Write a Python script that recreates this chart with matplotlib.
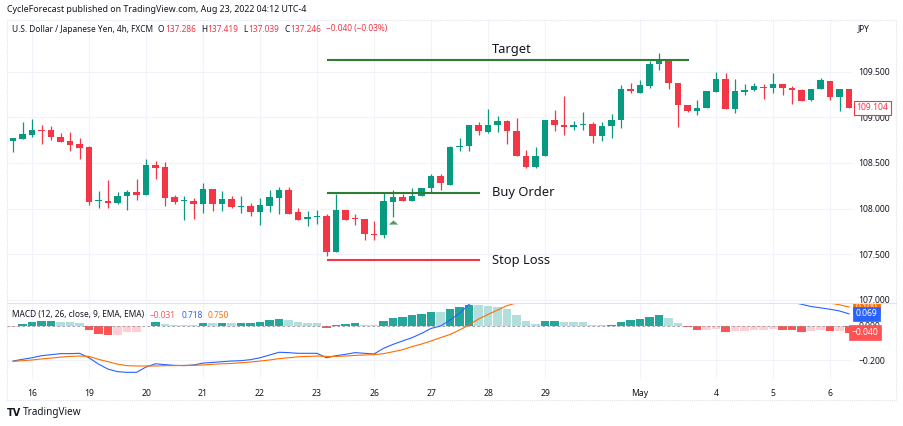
import numpy as np
import matplotlib
matplotlib.use('Agg')
import matplotlib.pyplot as plt
from matplotlib.patches import Rectangle
from matplotlib.lines import Line2D
from matplotlib.transforms import Bbox

plt.rcParams['font.family'] = ['Noto Sans', 'DejaVu Sans']

# USD/JPY 4h candles (Apr 15 - May 6)
opens = [108.741, 108.767, 108.807, 108.859, 108.859, 108.789, 108.741, 108.704, 108.670, 108.078,
         108.085, 108.056, 108.137, 108.181, 108.148, 108.481, 108.459, 108.126, 108.078, 108.085,
         108.048, 108.215, 108.052, 108.104, 108.019, 108.026, 107.963, 108.033, 108.119, 108.204,
         107.959, 107.886, 107.904, 107.923, 107.520, 107.988, 107.901, 107.890, 107.725, 107.714,
         108.069, 108.127, 108.080, 108.135, 108.226, 108.354, 108.262, 108.676, 108.683, 108.918,
         108.837, 108.921, 108.965, 108.855, 108.581, 108.452, 108.573, 108.976, 108.918, 108.896,
         108.921, 108.932, 108.800, 108.903, 108.976, 109.306, 109.262, 109.342, 109.588, 109.636,
         109.379, 109.134, 109.068, 109.104, 109.277, 109.423, 109.086, 109.277, 109.299, 109.335,
         109.324, 109.361, 109.324, 109.299, 109.189, 109.306, 109.397, 109.225, 109.306]
highs = [108.770, 108.952, 108.981, 108.915, 108.904, 108.826, 108.844, 108.778, 108.681, 108.193,
         108.315, 108.181, 108.204, 108.326, 108.548, 108.526, 108.507, 108.148, 108.137, 108.111,
         108.285, 108.215, 108.196, 108.137, 108.137, 108.056, 108.111, 108.204, 108.233, 108.233,
         108.007, 107.977, 107.988, 107.944, 108.164, 107.988, 107.944, 107.890, 107.860, 108.171,
         108.200, 108.164, 108.226, 108.226, 108.383, 108.383, 108.690, 108.775, 108.918, 108.947,
         109.086, 109.013, 108.976, 108.994, 108.639, 108.676, 108.976, 109.075, 109.233, 108.958,
         109.057, 108.947, 108.947, 109.031, 109.350, 109.372, 109.408, 109.617, 109.701, 109.636,
         109.379, 109.134, 109.185, 109.288, 109.496, 109.482, 109.423, 109.361, 109.379, 109.361,
         109.482, 109.361, 109.342, 109.313, 109.306, 109.434, 109.397, 109.306, 109.306]
lows = [108.619, 108.767, 108.785, 108.711, 108.752, 108.730, 108.630, 108.548, 108.037, 108.007,
        108.007, 108.048, 107.981, 108.093, 108.148, 108.326, 108.026, 108.048, 107.870, 107.881,
        107.948, 107.974, 107.974, 108.011, 107.952, 107.915, 107.815, 107.963, 107.937, 107.944,
        107.871, 107.813, 107.835, 107.484, 107.520, 107.871, 107.824, 107.659, 107.652, 107.678,
        107.904, 108.080, 108.080, 108.135, 108.171, 108.208, 108.262, 108.628, 108.628, 108.811,
        108.830, 108.837, 108.709, 108.573, 108.445, 108.445, 108.573, 108.848, 108.811, 108.859,
        108.859, 108.720, 108.738, 108.775, 108.885, 109.269, 109.262, 109.324, 109.518, 109.306,
        108.896, 109.057, 109.020, 109.104, 109.277, 109.086, 109.049, 109.240, 109.288, 109.196,
        109.269, 109.240, 109.148, 109.178, 109.178, 109.306, 109.189, 109.068, 109.104]
closes = [108.770, 108.815, 108.859, 108.852, 108.785, 108.733, 108.696, 108.659, 108.074, 108.089,
          108.063, 108.141, 108.181, 108.148, 108.481, 108.448, 108.119, 108.074, 108.089, 108.052,
          108.215, 108.052, 108.104, 108.019, 108.026, 107.963, 108.037, 108.122, 108.204, 107.944,
          107.879, 107.904, 107.923, 107.520, 107.988, 107.871, 107.886, 107.725, 107.711, 108.080,
          108.127, 108.080, 108.142, 108.226, 108.354, 108.281, 108.676, 108.690, 108.918, 108.848,
          108.918, 108.965, 108.848, 108.573, 108.452, 108.581, 108.976, 108.914, 108.896, 108.918,
          108.932, 108.800, 108.910, 108.976, 109.306, 109.288, 109.350, 109.588, 109.636, 109.379,
          109.134, 109.068, 109.104, 109.288, 109.423, 109.086, 109.288, 109.299, 109.342, 109.324,
          109.361, 109.324, 109.299, 109.178, 109.306, 109.405, 109.225, 109.306, 109.104]

# MACD (12, 26, 9)
macd_hist = [-0.006, 0.008, 0.019, 0.026, 0.028, 0.020, 0.019, 0.018, -0.023, -0.047,
             -0.055, -0.053, -0.039, -0.035, -0.004, 0.019, 0.010, 0.004, 0.003, 0.002,
             0.016, 0.015, 0.016, 0.014, 0.015, 0.016, 0.021, 0.031, 0.039, 0.031,
             0.019, 0.016, 0.013, -0.012, 0.004, 0.008, 0.016, 0.006, 0.004, 0.029,
             0.045, 0.051, 0.060, 0.068, 0.078, 0.077, 0.097, 0.107, 0.120, 0.119,
             0.117, 0.107, 0.097, 0.062, 0.027, 0.010, 0.027, 0.028, 0.021, 0.020,
             0.019, 0.006, 0.004, 0.005, 0.021, 0.033, 0.039, 0.050, 0.062, 0.045,
             0.016, -0.010, -0.027, -0.025, -0.021, -0.035, -0.033, -0.031, -0.025, -0.023,
             -0.021, -0.023, -0.024, -0.035, -0.031, -0.023, -0.031, -0.029, -0.040]
macd_line = [-0.206, -0.196, -0.187, -0.175, -0.169, -0.163, -0.163, -0.161, -0.187, -0.224,
             -0.253, -0.268, -0.272, -0.272, -0.241, -0.222, -0.227, -0.231, -0.233, -0.229,
             -0.218, -0.214, -0.210, -0.206, -0.204, -0.198, -0.187, -0.171, -0.155, -0.157,
             -0.161, -0.161, -0.161, -0.187, -0.175, -0.167, -0.157, -0.161, -0.165, -0.132,
             -0.109, -0.089, -0.070, -0.045, -0.016, -0.002, 0.033, 0.072, 0.124, 0.158,
             0.183, 0.198, 0.214, 0.195, 0.167, 0.152, 0.176, 0.184, 0.182, 0.186,
             0.190, 0.178, 0.177, 0.179, 0.200, 0.220, 0.236, 0.260, 0.287, 0.281,
             0.256, 0.228, 0.204, 0.200, 0.199, 0.176, 0.170, 0.164, 0.164, 0.160,
             0.157, 0.149, 0.138, 0.125, 0.112, 0.104, 0.096, 0.086, 0.069]
signal_line = [-0.208, -0.204, -0.200, -0.194, -0.189, -0.183, -0.179, -0.177, -0.179, -0.196,
               -0.210, -0.224, -0.233, -0.235, -0.235, -0.235, -0.233, -0.233, -0.231, -0.231,
               -0.229, -0.225, -0.222, -0.220, -0.216, -0.212, -0.206, -0.200, -0.192, -0.187,
               -0.181, -0.179, -0.177, -0.179, -0.179, -0.177, -0.173, -0.171, -0.169, -0.163,
               -0.152, -0.140, -0.122, -0.107, -0.089, -0.070, -0.051, -0.025, 0.004, 0.039,
               0.066, 0.091, 0.117, 0.133, 0.140, 0.142, 0.149, 0.156, 0.161, 0.166,
               0.171, 0.172, 0.173, 0.174, 0.179, 0.187, 0.197, 0.210, 0.225, 0.236,
               0.240, 0.238, 0.231, 0.225, 0.220, 0.211, 0.203, 0.195, 0.189, 0.183,
               0.178, 0.172, 0.160, 0.152, 0.146, 0.140, 0.132, 0.122, 0.109]

date_labels = ['16', '19', '20', '21', '22', '23', '26', '27', '28', '29', 'May', '4', '5', '6']
date_idx = [2, 8, 14, 20, 26, 32, 38, 44, 50, 56, 66, 74, 80, 86]
price_ticks = [107.0, 107.5, 108.0, 108.5, 109.0, 109.5]
macd_ticks = [-0.2, 0.0]

# drawn trade levels
level_names = ['Target', 'Buy Order', 'Stop Loss']
level_prices = [109.632, 108.172, 107.433]
level_start = [33.05, 33.05, 33.05]
level_end = [71.2, 49.2, 49.2]
level_colors = ['#2e7d32', '#2e7d32', '#f23645']

# strategy entry marker
entry_idx = [40]
entry_price = [107.857]

UP, DOWN = '#089981', '#f23645'
TEXT = '#131722'
GRID = '#f0f3fa'
W, H = 904, 426


def box(x0, y0, x1, y1):
    # pixel box (top-left origin) -> figure fraction rect
    return [x0 / W, 1 - y1 / H, (x1 - x0) / W, (y1 - y0) / H]


def fmt(v):
    return f'{v:.3f}'.replace('-', '\u2212')


fig = plt.figure(figsize=(W / 100, H / 100), dpi=100)
ax = fig.add_axes(box(7, 20, 853, 302))
axm = fig.add_axes(box(7, 303, 853, 379), sharex=ax)
renderer = fig.canvas.get_renderer()

o, h, l, c = map(np.array, (opens, highs, lows, closes))
idx = np.arange(len(c))
col = np.where(c >= o, UP, DOWN)

# candles
ax.vlines(idx, l, h, colors=col, lw=0.9, zorder=3)
ax.bar(idx, np.maximum(np.abs(c - o), 0.011), bottom=np.minimum(o, c),
       width=0.7, color=col, lw=0, zorder=4)

# levels and their labels
for name, p, x0, x1, lc in zip(level_names, level_prices, level_start, level_end, level_colors):
    ax.plot([x0, x1], [p, p], color=lc, lw=1.5, solid_capstyle='butt', zorder=5)
    dy = 7.5 if name == 'Target' else 0
    ax.annotate(name, xy=(50.4, p), xytext=(0, dy), textcoords='offset points',
                ha='left', va='center', fontsize=9.3, color=TEXT, zorder=6)

ax.scatter(entry_idx, entry_price, marker=[(-1, -0.45), (1, -0.45), (0, 0.45)],
           s=45, color='#4f9d63', lw=0, zorder=6)

ax.set_xlim(-0.632, 88.42)
ax.set_ylim(106.975, 110.067)
ax.set_yticks(price_ticks)
ax.set_yticklabels([fmt(v) for v in price_ticks])
ax.yaxis.tick_right()
ax.set_xticks(date_idx)
ax.tick_params(axis='x', labelbottom=False, length=0)
ax.tick_params(axis='y', length=0, pad=4, labelsize=6.2, labelcolor=TEXT)
ax.grid(color=GRID, lw=0.8, zorder=0)

# last price label
ax.annotate(f'{c[-1]:.3f}', xy=(1, c[-1]), xycoords=('axes fraction', 'data'),
            xytext=(2.5, 0), textcoords='offset points', ha='left', va='center',
            fontsize=6.2, color=DOWN, zorder=10, annotation_clip=False,
            bbox=dict(boxstyle='square,pad=0.3', fc='white', ec=DOWN, lw=0.8))

# MACD pane
hist = np.array(macd_hist)
prev = np.concatenate([[hist[0] - 0.001], hist[:-1]])
hcol = np.where(hist >= 0, np.where(hist > prev, '#26a69a', '#b2dfdb'),
                np.where(hist < prev, '#ff5252', '#ffcdd2'))
axm.bar(idx, hist, width=0.88, color=hcol, lw=0, zorder=2)
axm.axhline(0, color='#9598a1', lw=0.6, ls=(0, (3, 3)), zorder=3)
axm.plot(idx, macd_line, color='#2962ff', lw=0.8, zorder=4)
axm.plot(idx, signal_line, color='#ff6d00', lw=0.8, zorder=4)
axm.set_ylim(-0.3108, 0.1324)
axm.set_yticks(macd_ticks)
axm.set_yticklabels([fmt(v) for v in macd_ticks])
axm.yaxis.tick_right()
axm.set_xticks(date_idx)
axm.set_xticklabels(date_labels)
axm.tick_params(axis='x', length=0, pad=7, labelsize=6.2, labelcolor=TEXT)
axm.tick_params(axis='y', length=0, pad=4, labelsize=6.2, labelcolor=TEXT)
axm.grid(color=GRID, lw=0.8, zorder=0)

clip = Bbox.from_extents(0, (H - 379), W, (H - 303))
for val, fc, dx in [(signal_line[-1], '#ff6d00', 2.0),
                    (macd_line[-1], '#2962ff', 2.0),
                    (macd_hist[-1], '#ff5252', -1.0)]:
    t = axm.annotate(fmt(val), xy=(1, val), xycoords=('axes fraction', 'data'),
                     xytext=(dx, 0), textcoords='offset points', ha='left', va='center',
                     fontsize=6.2, color='white', zorder=10, annotation_clip=False,
                     bbox=dict(boxstyle='square,pad=0.3', fc=fc, ec=fc, lw=0.5))
    t.set_clip_box(clip)
    t.set_clip_on(True)

for a in (ax, axm):
    for s in a.spines.values():
        s.set_visible(False)

# frame and pane separator
fig.add_artist(Rectangle((7 / W, 1 - 400 / H), 889 / W, 380 / H, transform=fig.transFigure,
                         fill=False, ec='#e0e3eb', lw=0.8, ls=(0, (1, 1))))
fig.add_artist(Line2D([7 / W, 896 / W], [1 - 302.5 / H] * 2, color='#e0e3eb', lw=0.8))


def text_row(x, y, parts, size):
    # lay out coloured pieces one after another on a single line
    for s, cc, gap in parts:
        t = fig.text(x / W, 1 - y / H, s, fontsize=size, color=cc, va='center')
        x = t.get_window_extent(renderer).x1 + gap


fig.text(7 / W, 1 - 10 / H, 'CycleForecast published on TradingView.com, Aug 23, 2022 04:12 UTC-4',
         fontsize=6.4, color=TEXT, va='center')
text_row(12, 29, [('U.S. Dollar / Japanese Yen, 4h, FXCM', TEXT, 5), ('O', TEXT, 0.5),
                  ('137.286', DOWN, 5), ('H', TEXT, 0.5), ('137.419', DOWN, 5),
                  ('L', TEXT, 0.5), ('137.039', DOWN, 5), ('C', TEXT, 0.5),
                  ('137.246', DOWN, 5), ('\u22120.040 (\u22120.03%)', DOWN, 0)], 6.0)
fig.text(858 / W, 1 - 29 / H, 'JPY', fontsize=6.0, color=TEXT, va='center')
text_row(12, 315, [('MACD (12, 26, close, 9, EMA, EMA)', TEXT, 6), ('\u22120.031', '#f7525f', 5),
                   ('0.718', '#2962ff', 5), ('0.750', '#ff6d00', 0)], 6.0)

# TradingView footer
fig.text(7 / W, 1 - 413 / H, 'TV', fontsize=7, fontweight='bold', color=TEXT, va='center',
         family='DejaVu Sans')
fig.text(23 / W, 1 - 413 / H, 'TradingView', fontsize=7.2, color=TEXT, va='center')

fig.savefig('out.png', dpi=100)
